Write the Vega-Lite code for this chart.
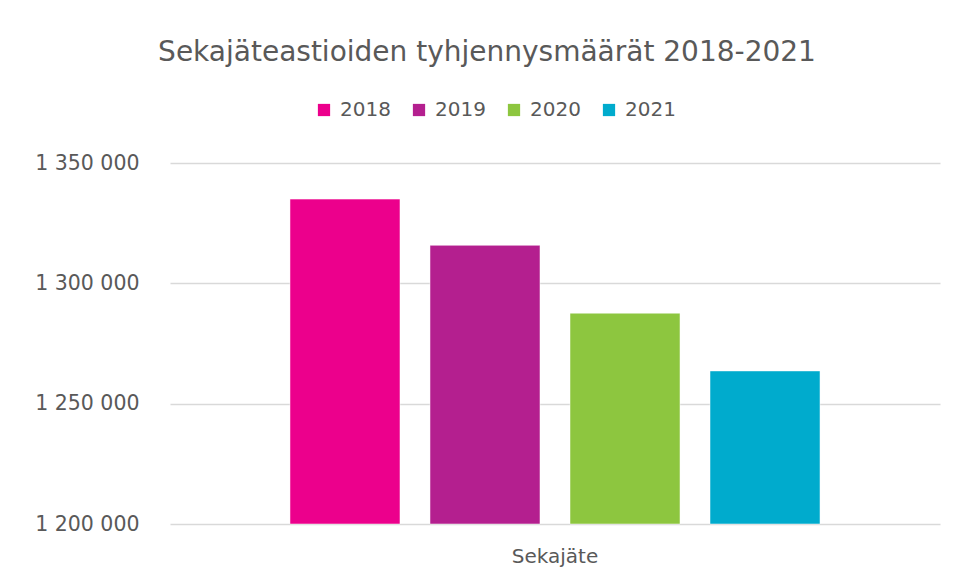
{
  "$schema": "https://vega.github.io/schema/vega-lite/v6.json",
  "width": 770,
  "height": 361,
  "autosize": {"type": "none"},
  "padding": {"left": 170, "top": 163, "right": 15, "bottom": 56},
  "background": "white",
  "title": {
    "text": "Sekajäteastioiden tyhjennysmäärät 2018-2021",
    "anchor": "middle",
    "dx": -68,
    "offset": 33,
    "fontSize": 28,
    "font": "DejaVu Sans",
    "fontWeight": "normal",
    "color": "#595959"
  },
  "data": {
    "values": [
      {"category": "Sekajäte", "year": "2018", "value": 1335000},
      {"category": "Sekajäte", "year": "2019", "value": 1315800},
      {"category": "Sekajäte", "year": "2020", "value": 1287600},
      {"category": "Sekajäte", "year": "2021", "value": 1263600}
    ]
  },
  "mark": {"type": "bar", "stroke": "white", "strokeWidth": 0.5},
  "encoding": {
    "x": {
      "field": "category",
      "type": "nominal",
      "scale": {"paddingOuter": 0.1875, "paddingInner": 0},
      "axis": {
        "title": null,
        "labelAngle": 0,
        "labelFontSize": 20,
        "labelFont": "DejaVu Sans",
        "labelColor": "#595959",
        "labelPadding": 22,
        "ticks": false,
        "domain": false
      }
    },
    "xOffset": {
      "field": "year",
      "type": "nominal",
      "scale": {"paddingInner": 0.2143, "paddingOuter": 0.107}
    },
    "y": {
      "field": "value",
      "type": "quantitative",
      "scale": {"domain": [1200000, 1350000], "nice": false, "zero": false},
      "axis": {
        "title": null,
        "values": [1200000, 1250000, 1300000, 1350000],
        "labelExpr": "replace(format(datum.value, ','), regexp(',', 'g'), ' ')",
        "labelFontSize": 20.5,
        "labelFont": "DejaVu Sans",
        "labelColor": "#595959",
        "labelPadding": 31,
        "ticks": false,
        "domain": false,
        "grid": true,
        "gridColor": "#D9D9D9",
        "gridWidth": 1.5
      }
    },
    "y2": {"datum": 1200000},
    "color": {
      "field": "year",
      "type": "nominal",
      "scale": {
        "domain": ["2018", "2019", "2020", "2021"],
        "range": ["#EC008C", "#B41F8F", "#8DC63F", "#00ABCD"]
      },
      "legend": {
        "title": null,
        "orient": "none",
        "direction": "horizontal",
        "legendX": 144,
        "legendY": -63,
        "symbolType": "square",
        "symbolSize": 150,
        "symbolStrokeWidth": 0,
        "labelFontSize": 20,
        "labelFont": "DejaVu Sans",
        "labelColor": "#595959",
        "labelOffset": 6,
        "columnPadding": 18
      }
    }
  },
  "config": {
    "view": {"stroke": null}
  }
}
